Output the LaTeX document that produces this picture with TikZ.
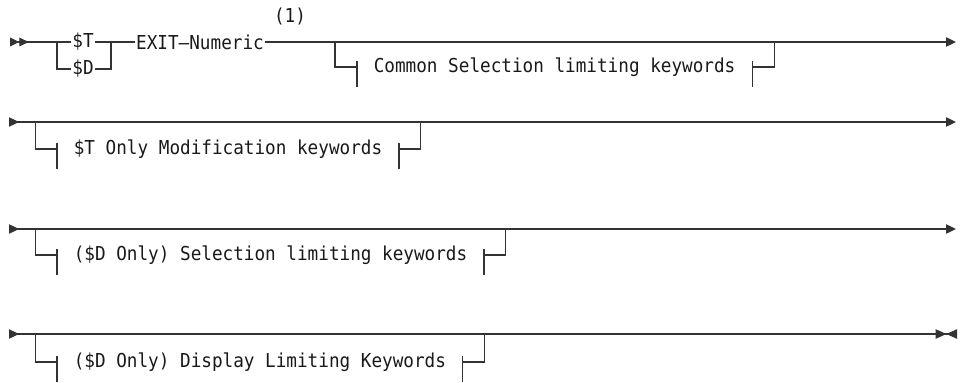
\documentclass[tikz,border=0pt]{standalone}
\usepackage{fontspec}
\setmonofont[FakeStretch=0.92]{DejaVu Sans Mono}
\usetikzlibrary{arrows.meta}

\begin{document}
\begin{tikzpicture}[x=0.75pt,y=-0.75pt,
  rail/.style={draw=black!80,line width=0.9pt},
  kw/.style={font=\ttfamily\fontsize{14.4}{16}\selectfont,text=black!90,inner sep=1pt},
  frag/.style={kw,inner xsep=12.4pt,anchor=west}]
\useasboundingbox (0,0) rectangle (960,382);
% row 1
\coordinate (r1s) at (10,42);
\coordinate (r1a) at (57,42);
\coordinate (r1b) at (111,42);
\coordinate (r1e) at (956,42);
\node[kw] (tv) at (83,42) {\$T};
\node[kw] (dv) at (83,69) {\$D};
\node[kw] (exit) at (200,42) {EXIT—Numeric};
\node[kw] (note) at (290,16) {(1)};
\node[frag] (common) at (357,67) {Common Selection limiting keywords};
\coordinate (r1c) at ([xshift=-16.5pt]common.west |- r1s);
\coordinate (r1d) at ([xshift=16.5pt]common.east |- r1s);
\draw[rail,{Triangle[length=7pt,width=6.5pt,sep=0pt,reversed]Triangle[length=7pt,width=6.5pt,sep=0pt,reversed]}-] (r1s) -- (r1a) -- (tv);
\draw[rail] (r1a) |- (dv);
\draw[rail] (tv) -- (r1b) -- (exit);
\draw[rail] (dv) -| (r1b);
\draw[rail,-{Triangle[length=7.5pt,width=7pt]}] (exit) -- (r1e);
\draw[rail] (r1c) |- (common.west) ++(0,-6) -- ++(0,26);
\draw[rail] (r1d) |- (common.east) ++(0,-6) -- ++(0,26);
% row 2
\coordinate (r2s) at (9,122);
\coordinate (r2e) at (956,122);
\node[frag] (tonly) at (57,149) {\$T Only Modification keywords};
\coordinate (r2c) at ([xshift=-16pt]tonly.west |- r2s);
\coordinate (r2d) at ([xshift=16pt]tonly.east |- r2s);
\draw[rail,{Triangle[length=7.5pt,width=7pt,reversed]}-{Triangle[length=7.5pt,width=7pt]}] (r2s) -- (r2e);
\draw[rail] (r2c) |- (tonly.west) ++(0,-6) -- ++(0,26);
\draw[rail] (r2d) |- (tonly.east) ++(0,-6) -- ++(0,26);
% row 3
\coordinate (r3s) at (9,229);
\coordinate (r3e) at (956,229);
\node[frag] (dsel) at (57,255) {(\$D Only) Selection limiting keywords};
\coordinate (r3c) at ([xshift=-16pt]dsel.west |- r3s);
\coordinate (r3d) at ([xshift=16pt]dsel.east |- r3s);
\draw[rail,{Triangle[length=7.5pt,width=7pt,reversed]}-{Triangle[length=7.5pt,width=7pt]}] (r3s) -- (r3e);
\draw[rail] (r3c) |- (dsel.west) ++(0,-6) -- ++(0,26);
\draw[rail] (r3d) |- (dsel.east) ++(0,-6) -- ++(0,26);
% row 4
\coordinate (r4s) at (9,334);
\coordinate (r4e) at (957,334);
\node[frag] (ddisp) at (57,362) {(\$D Only) Display Limiting Keywords};
\coordinate (r4c) at ([xshift=-16pt]ddisp.west |- r4s);
\coordinate (r4d) at ([xshift=16pt]ddisp.east |- r4s);
\draw[rail,{Triangle[length=7.5pt,width=7pt,reversed]}-{Triangle[length=8pt,width=7pt,sep=0pt]Triangle[length=8pt,width=7pt,sep=0pt,reversed]}] (r4s) -- (r4e);
\draw[rail] (r4c) |- (ddisp.west) ++(0,-6) -- ++(0,26);
\draw[rail] (r4d) |- (ddisp.east) ++(0,-6) -- ++(0,26);
\draw[rail,line width=1.8pt] ([xshift=4pt]r4d) -- ++(22,0);
\end{tikzpicture}
\end{document}
